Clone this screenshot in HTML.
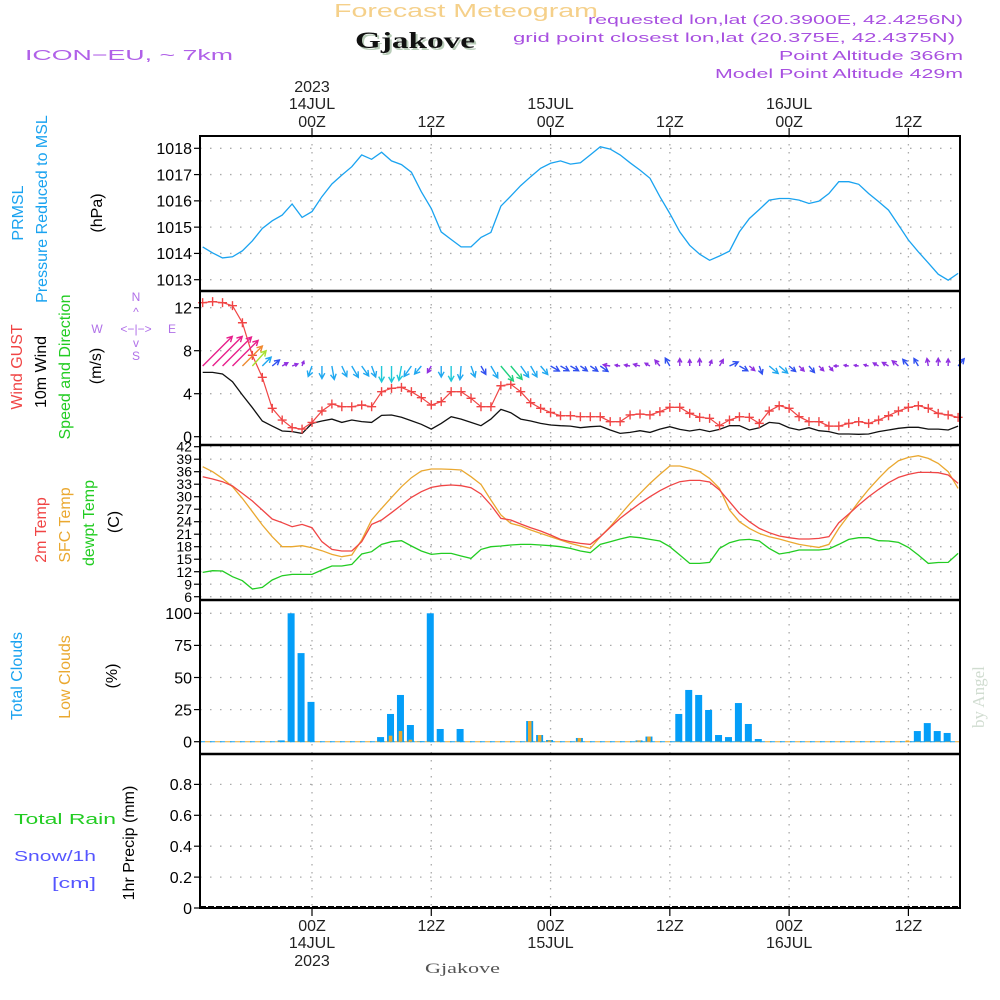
<!DOCTYPE html>
<html><head><meta charset="utf-8"><style>
html,body{margin:0;padding:0;background:#fff;}
svg{display:block;font-family:"Liberation Sans",sans-serif;}
</style></head><body>
<svg id="chart" width="1000" height="1000" viewBox="0 0 1000 1000" xmlns="http://www.w3.org/2000/svg">
<rect width="1000" height="1000" fill="#fff"/>
<text x="334" y="17" font-size="18" fill="#f5d08a" textLength="264" lengthAdjust="spacingAndGlyphs">Forecast Meteogram</text>
<text x="357" y="50" font-size="23" font-weight="bold" font-family="Liberation Serif, serif" fill="#b8ccb8" textLength="120" lengthAdjust="spacingAndGlyphs">Gjakove</text>
<text x="355" y="48" font-size="23" font-weight="bold" font-family="Liberation Serif, serif" fill="#111" textLength="120" lengthAdjust="spacingAndGlyphs">Gjakove</text>
<text x="25" y="60" font-size="15" fill="#b060e8" textLength="208" lengthAdjust="spacingAndGlyphs">ICON−EU, ~ 7km</text>
<g font-size="13" fill="#a850e0" text-anchor="end">
<text x="963" y="24" textLength="375" lengthAdjust="spacingAndGlyphs">requested lon,lat (20.3900E, 42.4256N)</text>
<text x="955" y="42" textLength="442" lengthAdjust="spacingAndGlyphs">grid point closest lon,lat (20.375E, 42.4375N)</text>
<text x="963" y="60" textLength="184" lengthAdjust="spacingAndGlyphs">Point Altitude 366m</text>
<text x="963" y="78" textLength="248" lengthAdjust="spacingAndGlyphs">Model Point Altitude 429m</text>
</g>
<g id="labels" font-size="16"></g>
<g id="grid"></g>
<g id="marks"></g>
<g id="frame"></g>
<text x="425" y="973" font-size="15" font-family="Liberation Serif, serif" fill="#555" textLength="75" lengthAdjust="spacingAndGlyphs">Gjakove</text>
<text transform="translate(984,728) rotate(-90)" font-size="17" font-family="Liberation Serif, serif" fill="#d0dcd0">by Angel</text>
</svg>
<script>
// ---- data (hourly, starting 13JUL 13Z) ----
const hourStart = -11; // hours relative to 14JUL 00Z
const pressure = [1014.25,1014.02,1013.83,1013.87,1014.10,1014.48,1014.95,1015.24,1015.46,1015.88,1015.37,1015.59,1016.16,1016.64,1016.98,1017.30,1017.75,1017.58,1017.85,1017.52,1017.38,1017.09,1016.35,1015.71,1014.82,1014.53,1014.25,1014.25,1014.61,1014.80,1015.80,1016.18,1016.58,1016.92,1017.24,1017.43,1017.52,1017.40,1017.45,1017.75,1018.06,1017.97,1017.75,1017.45,1017.17,1016.86,1016.16,1015.52,1014.82,1014.31,1013.97,1013.74,1013.90,1014.09,1014.82,1015.33,1015.67,1016.03,1016.09,1016.09,1016.03,1015.90,1015.99,1016.28,1016.73,1016.73,1016.63,1016.28,1015.97,1015.65,1015.08,1014.51,1014.06,1013.64,1013.21,1012.98,1013.24];
const gust = [12.47,12.56,12.47,12.19,10.6,7.57,5.52,2.64,1.55,0.84,0.71,1.33,2.39,3.04,2.79,2.79,2.95,2.79,4.19,4.5,4.59,4.19,3.63,2.95,3.26,4.19,4.19,3.57,2.79,2.79,4.74,4.87,4.19,3.16,2.64,2.26,1.95,1.95,1.86,1.86,1.86,1.40,1.40,2.02,2.11,2.02,2.33,2.73,2.73,2.17,1.80,1.71,1.02,1.55,1.86,1.80,1.24,2.39,2.88,2.64,1.86,1.40,1.40,0.99,0.99,1.24,1.40,1.24,1.55,1.95,2.39,2.73,2.88,2.64,2.17,2.02,1.80];
const wind = [5.98,5.98,5.83,5.12,3.88,2.70,1.46,0.99,0.53,0.47,0.31,1.24,1.46,1.64,1.33,1.55,1.40,1.33,1.98,2.02,1.80,1.49,1.15,0.71,1.24,1.86,1.64,1.33,1.02,1.64,2.54,2.23,1.64,1.46,1.24,1.09,1.02,0.99,0.84,0.93,0.99,0.62,0.31,0.40,0.56,0.40,0.71,0.93,0.68,0.53,0.68,0.47,0.68,1.02,1.02,0.62,0.84,1.33,1.24,0.84,0.62,0.84,0.56,0.47,0.25,0.25,0.22,0.25,0.47,0.62,0.78,0.87,0.87,0.71,0.71,0.62,0.99];
const windDir = [45,45,45,45,45,42,45,50,60,70,20,200,180,170,155,150,145,160,180,180,190,215,220,210,180,180,185,160,150,150,140,140,145,150,140,120,120,120,125,125,125,280,280,280,285,300,320,330,0,0,0,20,30,65,120,130,160,130,130,130,135,140,135,140,270,280,280,285,300,300,310,320,330,350,0,0,40];
const temp2m = [34.8,34.24,33.6,32.56,30.8,28.96,26.8,24.64,23.76,22.8,23.36,22.56,19.2,17.36,16.96,16.96,19.2,23.36,24.4,26.16,28.0,29.84,31.2,32.24,32.64,32.8,32.64,32.16,30.64,28.0,24.8,24.4,23.44,22.56,21.76,20.8,19.76,19.2,18.8,18.56,20.4,22.64,24.8,26.64,28.4,30.0,31.44,32.64,33.6,33.92,33.92,33.52,31.6,28.8,26.0,24.0,22.4,21.36,20.56,20.16,19.84,19.84,20.0,20.4,23.76,25.84,28.0,30.0,31.76,33.36,34.64,35.36,35.84,35.84,35.76,35.2,33.2];
const tempSfc = [37.2,36.0,34.4,32.4,29.6,26.4,23.2,20.4,18.0,18.0,18.24,17.76,17.04,16.16,15.6,16.0,19.6,24.4,27.2,29.84,32.4,34.56,36.16,36.64,36.64,36.56,36.4,34.8,32.96,29.2,25.6,23.6,22.96,22.0,21.2,20.4,19.6,18.8,18.16,17.6,20.4,22.8,25.6,28.4,30.8,33.2,35.36,37.36,37.36,36.8,36.0,34.4,32.0,26.8,24.0,22.4,21.2,20.4,19.84,19.2,18.56,18.16,17.84,18.56,22.4,25.6,28.8,31.76,34.4,36.8,38.64,39.44,39.84,39.2,38.0,36.0,32.0];
const dewpt = [11.84,12.24,12.16,10.8,9.84,7.84,8.24,10.0,11.04,11.36,11.36,11.36,12.4,13.36,13.36,13.76,16.24,16.8,18.56,19.2,19.44,18.16,16.96,16.16,16.4,16.4,15.76,15.2,17.36,18.0,18.16,18.4,18.56,18.56,18.4,18.24,18.0,17.6,16.96,16.56,18.56,19.2,19.84,20.4,20.16,19.76,19.36,18.0,16.0,14.0,14.0,14.24,17.6,18.96,19.6,19.76,19.36,17.6,16.24,16.64,17.2,17.2,17.2,17.44,18.56,19.76,20.16,20.16,19.44,19.36,19.04,17.84,16.0,14.0,14.2,14.24,16.4];
const totalClouds = [0,0,0,0,0,0,0,0,1,100,69,31,0,0,0,0,0,0,3.6,21.6,36.4,13,0.3,100,9.9,0,9.9,0,0,0,0,0,0,16.1,5.2,1.3,0,0,2.9,0,0,0,0,0,1,4,0,0,21.6,40.3,36.4,24.7,5.2,3.6,30.1,13.8,2.1,0,0,0,0,0,0,0,0,0,0,0,0,0,0,0,8.3,14.5,8.3,6.8,0];
const lowClouds = [0,0,0,0,0,0,0,0,0,0,0,0,0,0,0,0,0,0,0,4.7,8.3,1.6,0,0,0,0,0,0,0,0,0,0,0,16.1,5.2,1,0,0,2.9,0,0,0,0,0,1,4,0,0,0,0,0,0,0,0,0,0,0,0,0,0,0,0,0,0,0,0,0,0,0,0,0,1,0,0,0,0];
const precip = new Array(77).fill(0);
const pressTicks = [1013,1014,1015,1016,1017,1018];
const windTicks = [0,4,8,12];
const tempTicks = [6,9,12,15,18,21,24,27,30,33,36,39,42];
const cloudTicks = [0,25,50,75,100];
const precipTicks = [0,0.2,0.4,0.6,0.8];
const gridHours = [0,12,24,36,48,60];
const topTimeLabels = [["2023","14JUL","00Z"],["","","12Z"],["","15JUL","00Z"],["","","12Z"],["","16JUL","00Z"],["","","12Z"]];
const botTimeLabels = [["00Z","14JUL","2023"],["12Z","",""],["00Z","15JUL",""],["12Z","",""],["00Z","16JUL",""],["12Z","",""]];

// ---- scales ----
const X0=200, X1=960;
const xH = h => 312 + h*9.94;
const xI = i => xH(i + hourStart);
const yP = v => 148.3 + (1018-v)*26.28;
const yW = v => 436.7 - v*10.75;
const yT = v => 446.7 + (42-v)*4.167;
const yC = v => 741.7 - v*1.284;
const yR = v => 908 - v*154.5;

const NS="http://www.w3.org/2000/svg";
function mk(tag, attrs, parent){const e=document.createElementNS(NS,tag);for(const k in attrs)e.setAttribute(k,attrs[k]);parent.appendChild(e);return e;}
const G=document.getElementById('grid'), M=document.getElementById('marks'), F=document.getElementById('frame'), L=document.getElementById('labels');

function axis(ticks, yf, fmt, name, fs){
  ticks.forEach(t=>{
    const y=yf(t);
    const g=mk('line',{x1:X0,x2:X1,y1:y,y2:y,stroke:'#aaa','stroke-width':1.3,'stroke-dasharray':'1.5,8.5'},G);
    
    
    mk('line',{x1:X0-6,x2:X0,y1:y,y2:y,stroke:'#000','stroke-width':1.2},F);
    const tx=mk('text',{x:X0-8,y:y+fs*0.36,'font-size':fs,'text-anchor':'end',fill:'#000'},F);
    tx.textContent=fmt(t);
    
    
  });
}
axis(pressTicks,yP,String,'pressure',16);
axis(windTicks,yW,String,'wind',16);
axis(tempTicks,yT,String,'temp',14);
axis(cloudTicks,yC,String,'cloud',16);
axis(precipTicks,yR,t=>String(t),'precip',16);

gridHours.forEach((h,k)=>{
  const x=xH(h);
  const vl=mk('line',{x1:x,x2:x,y1:136,y2:908,stroke:'#aaa','stroke-width':1.3,'stroke-dasharray':'1.5,6.5'},G);
  
  
  mk('line',{x1:x,x2:x,y1:128,y2:136,stroke:'#000','stroke-width':1.2},F);
  mk('line',{x1:x,x2:x,y1:908,y2:916,stroke:'#000','stroke-width':1.2},F);
  topTimeLabels[k].forEach((s,r)=>{ if(!s) return;
    const t=mk('text',{x:x,y:[92,109,127][r],'font-size':16,'text-anchor':'middle',fill:'#222'},F); t.textContent=s;
    
    
  });
  botTimeLabels[k].forEach((s,r)=>{ if(!s) return;
    const t=mk('text',{x:x,y:[931,948,966][r],'font-size':16,'text-anchor':'middle',fill:'#222'},F); t.textContent=s;
    
    
  });
});

const fr=mk('rect',{x:X0,y:136,width:X1-X0,height:772,fill:'none',stroke:'#000','stroke-width':2},F);


[291,445,600,754].forEach(y=>{const s=mk('line',{x1:X0,x2:X1,y1:y,y2:y,stroke:'#000','stroke-width':2.5},F);
  
  });

function poly(arr,yf,color,name,w){
  const p=mk('polyline',{points:arr.map((v,i)=>xI(i).toFixed(1)+','+yf(v).toFixed(1)).join(' '),fill:'none',stroke:color,'stroke-width':w||1.3},M);
  
  
  return p;
}
poly(pressure,yP,'#1aa3f0','pressure-line');
poly(wind,yW,'#111','wind-speed-line');
poly(gust,yW,'#f04545','gust-line',1.2);
gust.forEach((v,i)=>{const x=xI(i),y=yW(v);
  const c=mk('path',{d:`M${x-4.5},${y}h9M${x},${y-4.5}v9`,stroke:'#f04545','stroke-width':1.4},M);
  
  });
function windColor(s){ if(s>=5)return '#e8208c'; if(s>=3.5)return '#f08a30'; if(s>=2.6)return '#a8e030'; if(s>=2.2)return '#20d080'; if(s>=1.7)return '#20c8d8'; if(s>=1.1)return '#20a8f0'; if(s>=0.8)return '#3050f0'; return '#9030e0';}
windDir.forEach((d,i)=>{
  const s=wind[i], len=3+6.5*s, a=d*Math.PI/180;
  const x0=xI(i), y0=366, x1=x0+len*Math.sin(a), y1=y0-len*Math.cos(a);
  const hl=Math.min(6,len*0.6), b1=a+Math.PI-0.5, b2=a+Math.PI+0.5;
  const p=mk('path',{d:`M${x0},${y0}L${x1},${y1}M${x1+hl*Math.sin(b1)},${y1-hl*Math.cos(b1)}L${x1},${y1}L${x1+hl*Math.sin(b2)},${y1-hl*Math.cos(b2)}`,stroke:windColor(s),'stroke-width':1.4,fill:'none'},M);
  
  
});
poly(dewpt,yT,'#22cc22','dewpoint-line');
poly(tempSfc,yT,'#eaa830','sfc-temp-line');
poly(temp2m,yT,'#f04545','temp-2m-line');
const bl=mk('line',{x1:X0,x2:X1,y1:yC(0),y2:yC(0),stroke:'#1aa3f0','stroke-width':1,'stroke-dasharray':'5,5'},M);


mk('line',{x1:X0+5,x2:X1,y1:yC(0),y2:yC(0),stroke:'#eaa830','stroke-width':1,'stroke-dasharray':'5,5'},M);
totalClouds.forEach((v,i)=>{ if(v<=0) return;
  const r=mk('rect',{x:xI(i)-4.5,y:yC(v),width:7,height:yC(0)-yC(v),fill:'#049ef8'},M);
  
  });
lowClouds.forEach((v,i)=>{ if(v<=0) return;
  const r=mk('rect',{x:xI(i)-2.7,y:yC(v),width:3.5,height:yC(0)-yC(v),fill:'#eaa830'},M);
  
  });
precip.forEach((v,i)=>{ if(v<=0) return;
  const r=mk('rect',{x:xI(i)-4.5,y:yR(v),width:7,height:yR(0)-yR(v),fill:'#22cc22'},M);
  
  });
const pb=mk('line',{x1:X0,x2:X1,y1:907,y2:907,stroke:'#000','stroke-width':2,'stroke-dasharray':'6,2'},M);



function vlab(text,cx,cy,color,name,fs){
  const t=mk('text',{transform:`translate(${cx+5},${cy}) rotate(-90)`,'text-anchor':'middle','font-size':fs||16,fill:color},L);
  t.textContent=text;
  
  
}
vlab('PRMSL',18,213,'#1aa3f0','prmsl-label');
vlab('Pressure Reduced to MSL',42,209,'#1aa3f0','pressure-label');
vlab('(hPa)',97,213,'#000','pressure-unit');
vlab('Wind GUST',17,367,'#f04545','gust-label');
vlab('10m Wind',41,372,'#000','wind-label');
vlab('Speed and Direction',65,367,'#22cc22','speed-direction-label');
vlab('(m/s)',96,366,'#000','wind-unit');
vlab('2m Temp',41,530,'#f04545','temp2m-label');
vlab('SFC Temp',65,525,'#eaa830','sfc-temp-label');
vlab('dewpt Temp',89,523,'#22cc22','dewpt-label');
vlab('(C)',114,522,'#000','temp-unit');
vlab('Total Clouds',17,676,'#1aa3f0','total-clouds-label');
vlab('Low Clouds',65,677,'#eaa830','low-clouds-label');
vlab('(%)',112,676,'#000','cloud-unit');
vlab('1hr Precip (mm)',129,843,'#000','precip-unit');
[['N',136,301],['W',97,333],['E',172,333],['S',136,360],['<−|−>',136,333],['^',136,316],['v',136,347]].forEach(c=>{
  const t=mk('text',{x:c[1],y:c[2],'font-size':12,'text-anchor':'middle',fill:'#b070e8'},L); t.textContent=c[0];
  
  
});
[['Total  Rain',14,824,'#22cc22','rain-label',102],['Snow/1h',14,861,'#5555ff','snow-label',82],['[cm]',52,888,'#5555ff','snow-unit',44]].forEach(c=>{
  const t=mk('text',{x:c[1],y:c[2],'font-size':15,fill:c[3],textLength:c[5],lengthAdjust:'spacingAndGlyphs','xml:space':'preserve'},L); t.textContent=c[0];
  
  
});
</script>
</body></html>
